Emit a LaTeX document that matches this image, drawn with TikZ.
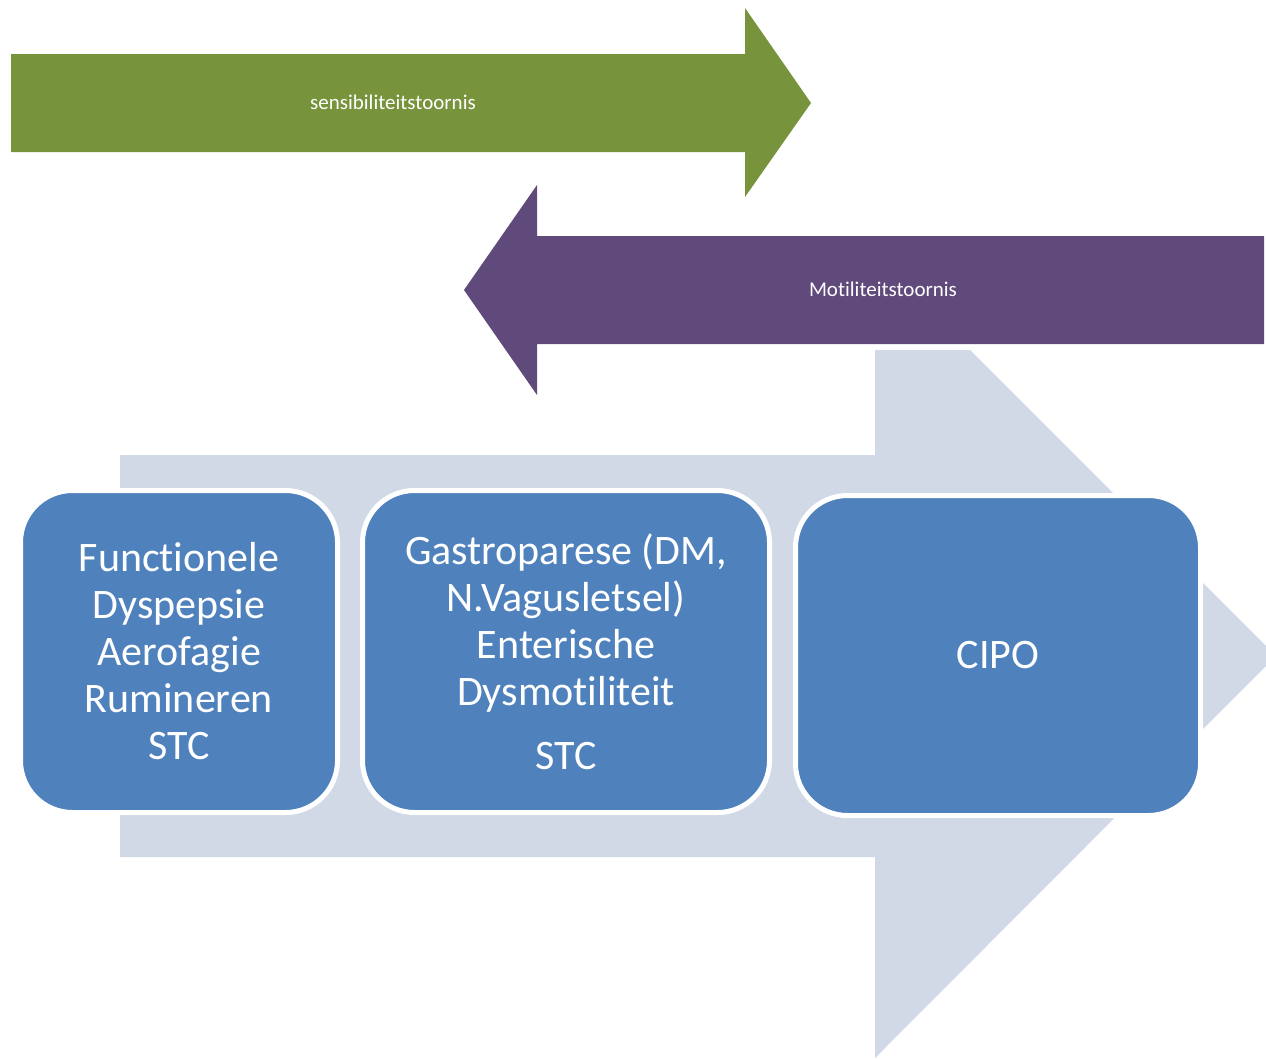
\documentclass[tikz,border=0pt]{standalone}
\usepackage{fontspec}
\setmainfont{Carlito}[Ligatures=NoCommon]
\definecolor{sensgreen}{HTML}{77933C}
\definecolor{motpurple}{HTML}{604A7B}
\definecolor{stageblue}{HTML}{4F81BD}
\definecolor{flowgray}{HTML}{D1D9E7}
\begin{document}
\begin{tikzpicture}[x=1pt, y=-1pt,
   every node/.style={text=white, align=center},
   stage/.style={draw=white, line width=5pt, fill=stageblue, rounded corners=52pt,
                 inner sep=0pt, font=\fontsize{42}{47}\selectfont},
   arrowlabel/.style={font=\fontsize{21}{24}\selectfont}]
\useasboundingbox (0,0) rectangle (1266,1058);
\clip (0,0) rectangle (1266,1058);

% process arrow behind the stages
\fill[flowgray] (120,455) -- (875,455) -- (875,350) -- (970,350) -- (1276,656)
   -- (875,1058) -- (875,857) -- (120,857) -- cycle;

% sensibility arrow, pointing right
\fill[sensgreen] (11,54) -- (745,54) -- (745,8) -- (811,103) -- (745,197)
   -- (745,152) -- (11,152) -- cycle;
\node[arrowlabel] (sens) at (393,102) {sensibiliteitstoornis};

% motility arrow, pointing left
\fill[motpurple] (1264,236) -- (537,236) -- (537,185) -- (464,290) -- (537,395)
   -- (537,344) -- (1264,344) -- cycle;
\node[arrowlabel] (mot) at (883,289) {Motiliteitstoornis};

% stages
\node[stage, minimum width=317pt, minimum height=322pt] (functioneel) at (179,651.5)
   {Functionele\\Dyspepsie\\Aerofagie\\Rumineren\\STC};
\node[stage, minimum width=407pt, minimum height=322pt] (gastro) at (566,651.5)
   {Gastroparese (DM,\\N.Vagusletsel)\\Enterische\\Dysmotiliteit\\[17pt]STC};
\node[stage, minimum width=405pt, minimum height=320pt] (cipo) at (998,655.5) {CIPO};

\end{tikzpicture}
\end{document}
